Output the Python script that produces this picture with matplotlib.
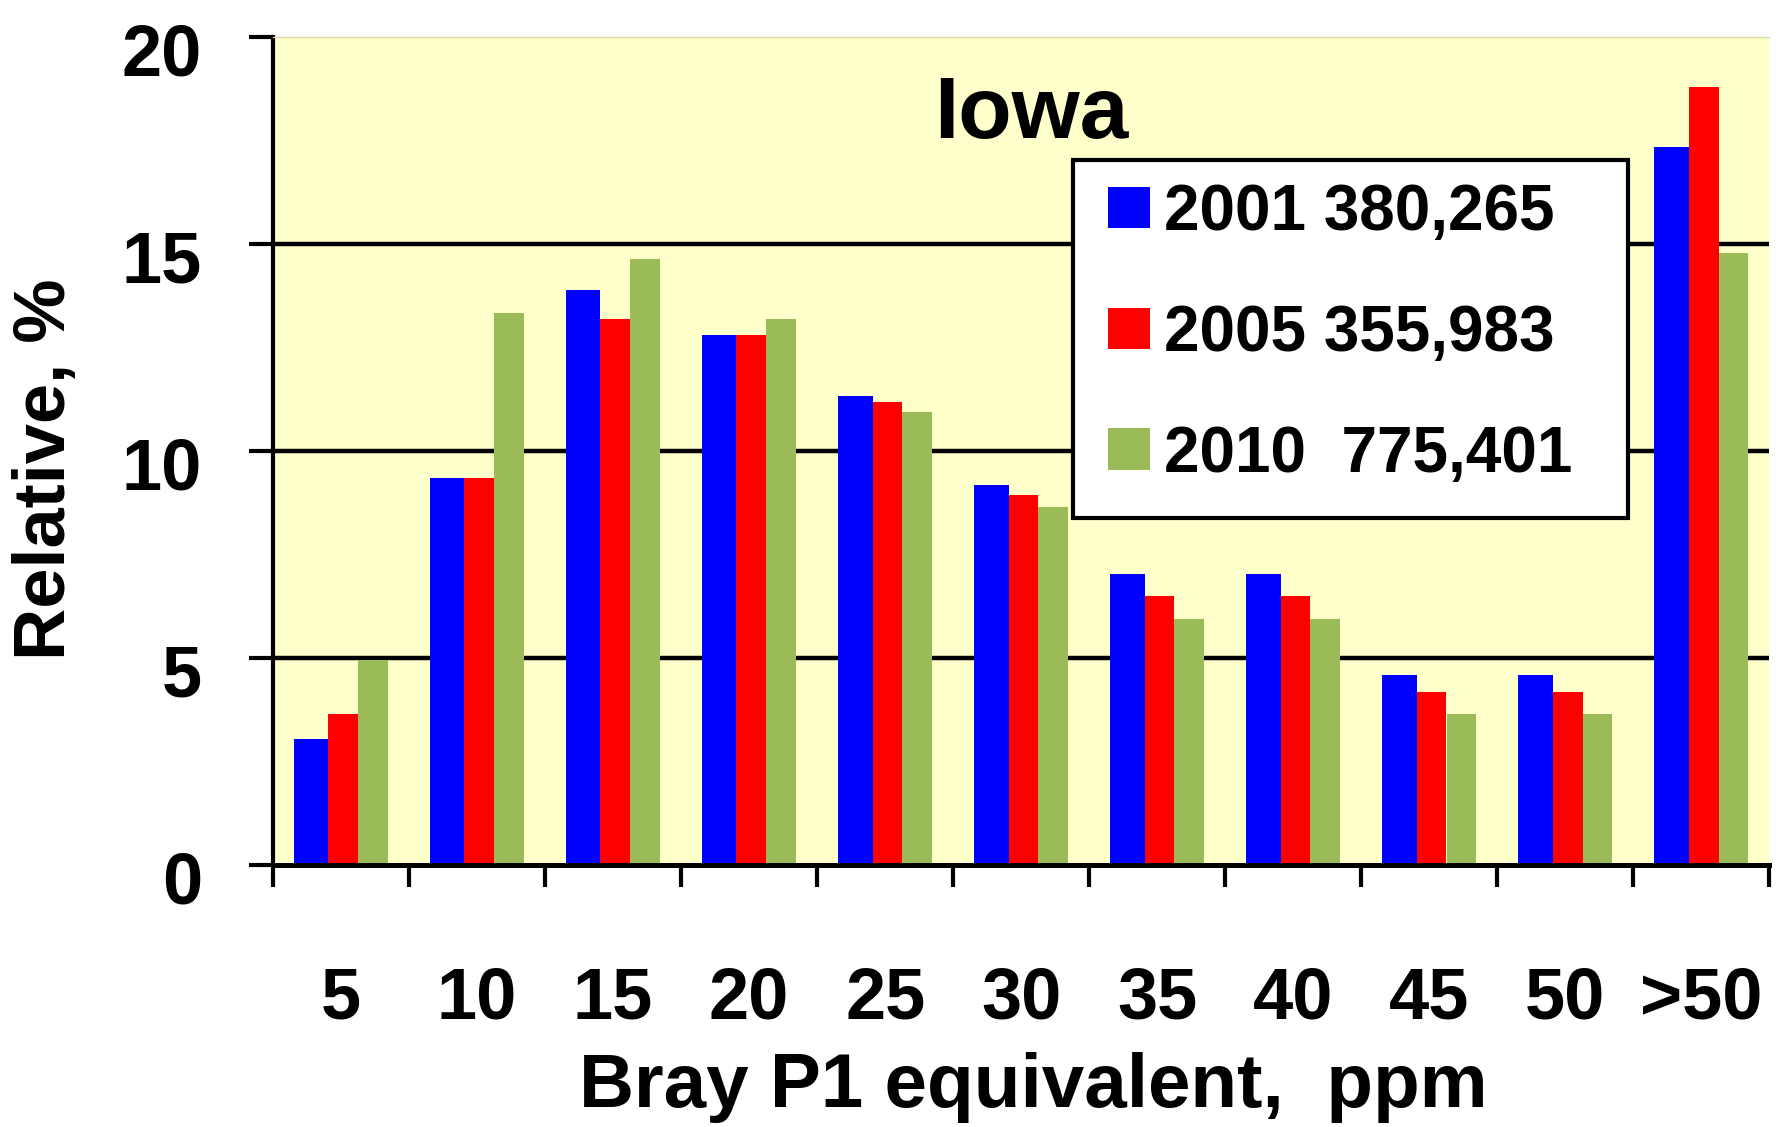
import matplotlib
matplotlib.use("Agg")
import matplotlib.pyplot as plt
import matplotlib.transforms as mtransforms
from matplotlib.patches import Patch, Rectangle
import numpy as np

plt.rcParams["font.family"] = ["Liberation Sans", "DejaVu Sans"]
plt.rcParams["font.weight"] = "bold"

# Bray P1 classes and relative frequencies (%)
categories = ["5", "10", "15", "20", "25", "30", "35", "40", "45", "50", ">50"]
vals_2001 = [3.05, 9.35, 13.9, 12.8, 11.35, 9.2, 7.05, 7.05, 4.6, 4.6, 17.35]
vals_2005 = [3.65, 9.35, 13.2, 12.8, 11.2, 8.95, 6.5, 6.5, 4.2, 4.2, 18.8]
vals_2010 = [4.95, 13.35, 14.65, 13.2, 10.95, 8.65, 5.95, 5.95, 3.65, 3.65, 14.8]
series_labels = ["2001 380,265", "2005 355,983", "2010  775,401"]
colors = ["#0000FF", "#FF0000", "#9BBB59"]

fig = plt.figure(figsize=(17.76, 11.27), dpi=100)
ax = fig.add_axes([0.1537, 0.2321, 0.8426, 0.7347])
ax.set_facecolor("#FFFFCC")

x = np.arange(len(categories))
# blue bars are a touch wider than the other two, like the original
ax.bar(x - 0.2195, vals_2001, width=0.253, color=colors[0], zorder=2)
ax.bar(x + 0.0165, vals_2005, width=0.219, color=colors[1], zorder=2)
ax.bar(x + 0.236, vals_2010, width=0.219, color=colors[2], zorder=2)

ax.set_xlim(-0.5, 10.5)
ax.set_ylim(0, 20)
for yv in (5, 10, 15):
    ax.axhline(yv, color="black", lw=3.2, zorder=1)

ax.spines["right"].set_visible(False)
ax.spines["top"].set_color("#d8d8a8")
ax.spines["top"].set_linewidth(1.0)
ax.spines["left"].set_linewidth(3.0)
ax.spines["bottom"].set_linewidth(3.6)
ax.spines["bottom"].set_zorder(4)

ax.set_yticks([0, 5, 10, 15, 20])
ax.tick_params(axis="y", direction="out", length=17, width=3, pad=34, labelsize=52)
ax.set_xticks(np.arange(-0.5, 11.0, 1.0))
ax.set_xticklabels([])
ax.set_xticks(x, categories, minor=True)
ax.tick_params(axis="x", which="major", direction="out", length=16, width=3)
ax.tick_params(axis="x", which="minor", length=0, pad=72, labelsize=52)
for lab in ax.get_yticklabels():
    lab.set_fontweight("bold")
    lab.set_transform(lab.get_transform() +
                      mtransforms.ScaledTranslation(0, -8 / 72, fig.dpi_scale_trans))
for lab in ax.get_xticklabels(minor=True):
    lab.set_fontweight("bold")

ax.set_xlabel("Bray P1 equivalent,  ppm", fontsize=55, fontweight="bold", va="center")
ax.xaxis.set_label_coords(0.508, -0.268)
ax.set_ylabel("Relative, %", fontsize=52, fontweight="bold", va="center")
ax.yaxis.set_label_coords(-0.152, 0.479)

ax.text(0.5067, 0.8785, "Iowa", transform=ax.transAxes, ha="center", va="baseline",
        fontsize=63, fontweight="bold", zorder=5)

# legend box drawn by hand so its size matches the original
ax.add_patch(Rectangle((0.5345, 0.42), 0.371, 0.432, transform=ax.transAxes,
                       facecolor="white", edgecolor="black", lw=3, zorder=5))
handles = [Patch(facecolor=c, edgecolor="none") for c in colors]
leg = ax.legend(handles, series_labels, loc="center left", bbox_to_anchor=(0.558, 0.642),
                frameon=False, borderpad=0, borderaxespad=0, handlelength=0.65,
                handleheight=0.62, handletextpad=0.22, labelspacing=0.95,
                prop={"size": 46, "weight": "bold"})
leg.set_zorder(6)

fig.savefig("out.png", dpi=100, facecolor="white")
